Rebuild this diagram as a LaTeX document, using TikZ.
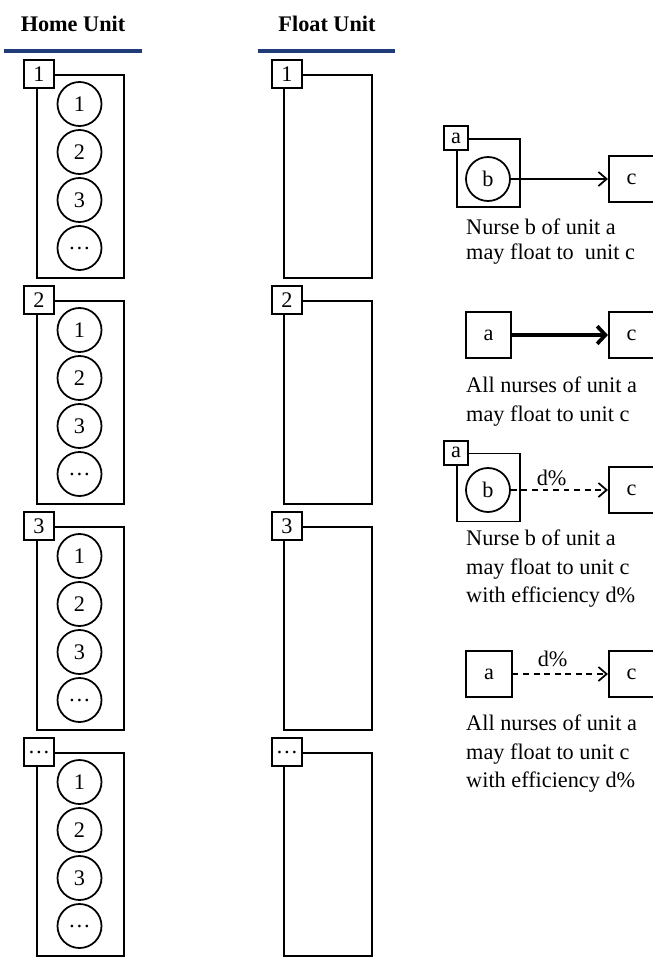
\documentclass[tikz,border=0pt]{standalone}
\usepackage{fontspec}
\setmainfont{Liberation Serif}
\usetikzlibrary{arrows.meta, positioning}
\definecolor{navyline}{HTML}{1F3C78}

\begin{document}
\begin{tikzpicture}[x=0.03cm, y=-0.03cm,
  every node/.style={font=\fontsize{19}{24}\selectfont, inner sep=0pt},
  unitbox/.style={draw, line width=1.5pt, minimum width=2.61cm, minimum height=6.09cm, anchor=north west},
  tagbox/.style={draw, fill=white, line width=1.5pt, minimum width=0.9cm, minimum height=0.86cm},
  smalltag/.style={draw, fill=white, line width=1.5pt, minimum size=0.72cm},
  nurse/.style={draw, circle, line width=1.5pt, minimum size=1.32cm},
  legbox/.style={draw, line width=1.5pt, minimum size=1.36cm},
  legsquare/.style={draw, line width=1.5pt, minimum width=1.89cm, minimum height=2.04cm},
  legtext/.style={anchor=north west, align=left},
  floatarrow/.style={line width=1.5pt, -{Straight Barb[length=7pt, width=12pt, line width=1.5pt]}},
  allarrow/.style={line width=3.2pt, -{Straight Barb[length=7pt, width=15pt, line width=3.2pt]}},
  effdash/.style={dash pattern=on 5pt off 4pt}
]
  \useasboundingbox (0,0) rectangle (653,958);

  % Titles
  \node[font=\fontsize{19}{24}\selectfont\bfseries] (homeTitle) at (73, 24) {Home Unit};
  \node[font=\fontsize{19}{24}\selectfont\bfseries] (floatTitle) at (327, 24) {Float Unit};
  \draw[navyline, line width=2.6pt] (4, 51) -- (142, 51);
  \draw[navyline, line width=2.6pt] (258, 51) -- (395, 51);

  % Units (home with nurses, float empty)
  \foreach \g/\lab in {0/1, 1/2, 2/3, 3/\ldots} {
    \node[unitbox] (home\g) at (36, 74+\g*226) {};
    \node[tagbox] (homeTag\g) at ([xshift=0.09cm]home\g.north west) {\lab};
    \foreach \n [count=\i from 0] in {1, 2, 3, \ldots} {
      \node[nurse] (nurse\g\i) at (79.5, 104+\g*226+\i*48) {\n};
    }
    \node[unitbox, minimum width=2.64cm] (float\g) at (283, 74+\g*226) {};
    \node[tagbox] (floatTag\g) at ([xshift=0.12cm]float\g.north west) {\lab};
  }

  % Legend: nurse b of unit a to unit c
  \node[legsquare] (sqA1) at (488.5, 173) {};
  \node[smalltag] (tagA1) at (sqA1.north west) {a};
  \node[nurse] (nurseB1) at (488, 179) {b};
  \node[legbox] (unitC1) at (631.5, 179) {c};
  \draw[floatarrow] (nurseB1) -- (unitC1);
  \node[legtext, font=\fontsize{19}{21}\selectfont] (txt1) at (466, 219)
    {Nurse b of unit a\\may float to\ \ unit c};

  % Legend: all nurses of unit a to unit c
  \node[legbox] (unitA2) at (488.5, 335) {a};
  \node[legbox] (unitC2) at (631.5, 335) {c};
  \draw[allarrow] (unitA2) -- (unitC2);
  \node[legtext] (txt2) at (466, 377) {All nurses of unit a\\may float to unit c};

  % Legend: nurse b with efficiency
  \node[legsquare] (sqA3) at (488.5, 487.5) {};
  \node[smalltag] (tagA3) at (sqA3.north west) {a};
  \node[nurse] (nurseB3) at (488, 490) {b};
  \node[legbox] (unitC3) at (631.5, 490) {c};
  \draw[floatarrow, effdash] (nurseB3) -- node[pos=0.42, above=3pt] (eff3) {d\%} (unitC3);
  \node[legtext] (txt3) at (466, 530) {Nurse b of unit a\\may float to unit c\\with efficiency d\%};

  % Legend: all nurses with efficiency
  \node[legbox] (unitA4) at (489, 674) {a};
  \node[legbox] (unitC4) at (631.5, 674) {c};
  \draw[floatarrow, effdash] (unitA4) -- node[pos=0.42, above=5pt] (eff4) {d\%} (unitC4);
  \node[legtext] (txt4) at (466, 715) {All nurses of unit a\\may float to unit c\\with efficiency d\%};

\end{tikzpicture}
\end{document}
